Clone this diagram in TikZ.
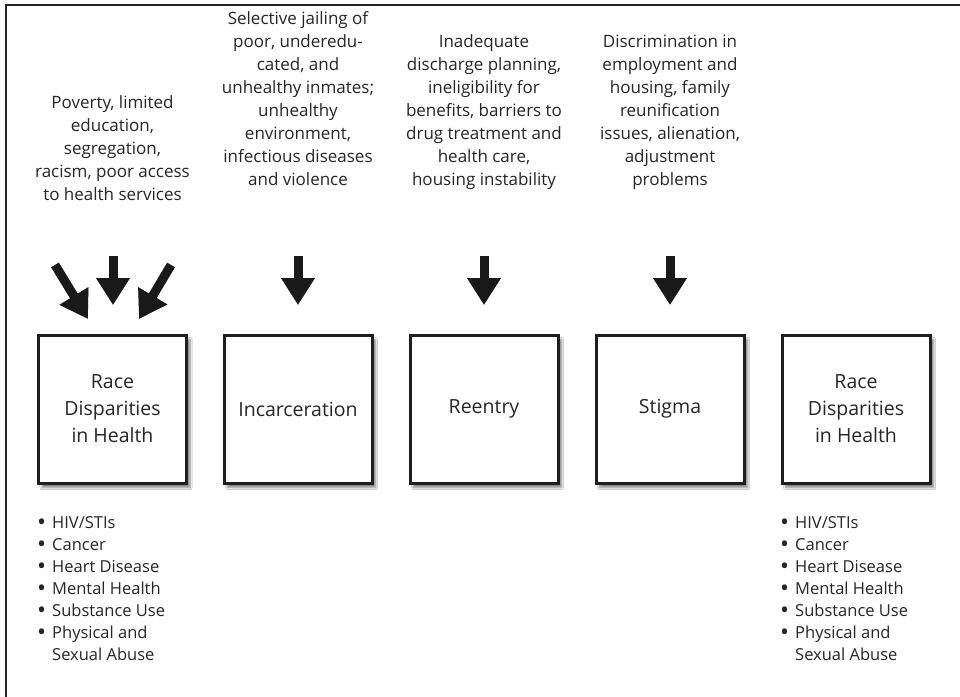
\documentclass[tikz,border=0pt]{standalone}
\usepackage{fontspec}
\usepackage{graphicx}
\setmainfont{Open Sans}
\usetikzlibrary{arrows.meta,shadows.blur}
\newcommand\listdot{\raisebox{-1.6pt}{\scalebox{1.45}{•}}}
\begin{document}
\begin{tikzpicture}[x=1pt,y=-1pt,
  stagebox/.style={draw=black!88, line width=3pt, fill=white,
    minimum width=148pt, minimum height=148pt, inner sep=0pt, align=center,
    font=\fontsize{19.5}{27}\selectfont, text=black!85,
    blur shadow={shadow xshift=3.5pt, shadow yshift=-4.5pt, shadow blur steps=8, shadow opacity=50}},
  factor/.style={anchor=south, align=center, inner sep=0pt,
    font=\fontsize{17}{23}\selectfont, text=black!85},
  bullets/.style={anchor=north west, inner sep=0pt, align=left,
    font=\fontsize{16.5}{22}\selectfont, text=black!85},
  fat/.style={line width=9pt, draw=black!90, -{Triangle[width=32pt,length=27pt]}},
  fatshade/.style={line width=9pt, draw=black, opacity=0.13, -{Triangle[width=32pt,length=27pt]}},
]
\useasboundingbox (0,0) rectangle (960,696);
\fill[white] (0,0) rectangle (960,696);

% outer frame (only the top and left sides fall inside the page)
\draw[line width=2.2pt, black!85] (6,700) -- (6,5) -- (965,5);

% stage boxes
\node[stagebox] (race1) at (112.5,409) {Race\\Disparities\\in Health};
\node[stagebox] (jail)  at (298,409) {Incarceration};
\node[stagebox] (reent) at (484,409) {Reentry};
\node[stagebox] (stig)  at (670,409) {Stigma};
\node[stagebox] (race2) at (856,409) {Race\\Disparities\\in Health};

% contributing factors above each stage
\node[factor] (f1) at (112.5,208) {Poverty, limited\\education,\\segregation,\\racism, poor access\\to health services\strut};
\node[factor] (f2) at (298,193) {Selective jailing of\\poor, underedu-\\cated, and\\unhealthy inmates;\\unhealthy\\environment,\\infectious diseases\\and violence\strut};
\node[factor] (f3) at (484,193) {Inadequate\\discharge planning,\\ineligibility for\\benefits, barriers to\\drug treatment and\\health care,\\housing instability\strut};
\node[factor] (f4) at (670,193) {Discrimination in\\employment and\\housing, family\\reunification\\issues, alienation,\\adjustment\\problems\strut};

% arrow end points
\coordinate (a1s) at (55,265);  \coordinate (a1e) at (88,319);
\coordinate (a2s) at (113,256); \coordinate (a2e) at (113,305);
\coordinate (a3s) at (171,265); \coordinate (a3e) at (139,319);
\coordinate (a4s) at (298,256); \coordinate (a4e) at (298,305);
\coordinate (a5s) at (484,256); \coordinate (a5e) at (484,305);
\coordinate (a6s) at (670,256); \coordinate (a6e) at (670,305);

% soft shadows behind the arrows
\foreach \s/\e in {a1s/a1e,a2s/a2e,a3s/a3e,a4s/a4e,a5s/a5e,a6s/a6e}{
  \draw[fatshade, shift={(3,3)}] (\s) -- (\e);
  \draw[fatshade, shift={(5,5)}] (\s) -- (\e);
  \draw[fatshade, shift={(6.5,6.5)}, opacity=0.07] (\s) -- (\e);
}
% the arrows
\foreach \s/\e in {a1s/a1e,a2s/a2e,a3s/a3e,a4s/a4e,a5s/a5e,a6s/a6e}{
  \draw[fat] (\s) -- (\e);
}

% health outcome lists
\node[bullets] (list1) at (37,513) {\begin{tabular}{@{}l@{\hspace{6pt}}l@{}}
\listdot&HIV/STIs\\ \listdot&Cancer\\ \listdot&Heart Disease\\ \listdot&Mental Health\\ \listdot&Substance Use\\ \listdot&Physical and\\ &Sexual Abuse
\end{tabular}};
\node[bullets] (list2) at (780,513) {\begin{tabular}{@{}l@{\hspace{6pt}}l@{}}
\listdot&HIV/STIs\\ \listdot&Cancer\\ \listdot&Heart Disease\\ \listdot&Mental Health\\ \listdot&Substance Use\\ \listdot&Physical and\\ &Sexual Abuse
\end{tabular}};
\end{tikzpicture}
\end{document}
